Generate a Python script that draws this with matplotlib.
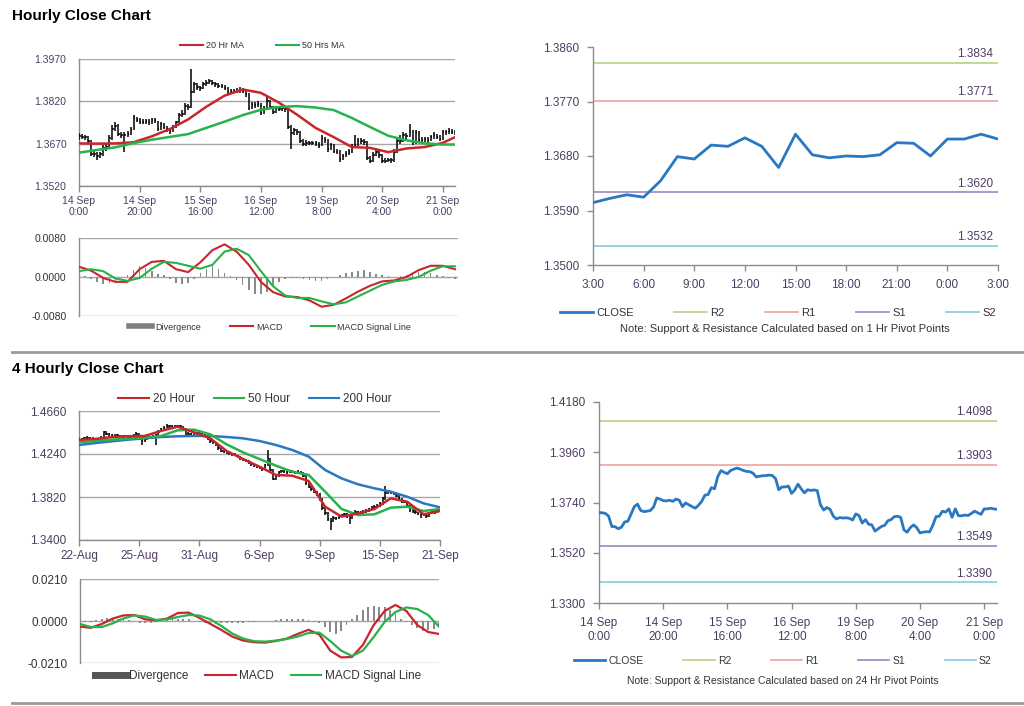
import matplotlib
matplotlib.use("Agg")
import matplotlib.pyplot as plt
from matplotlib.lines import Line2D
import numpy as np

plt.rcParams['font.family'] = ['Liberation Sans', 'DejaVu Sans']

# ---------------- data ----------------
# hourly session 14 Sep 0:00 .. 21 Sep ~4:00 (one value per hour)
date_ticks_1h = ["14 Sep\n0:00", "14 Sep\n20:00", "15 Sep\n16:00", "16 Sep\n12:00",
                 "19 Sep\n8:00", "20 Sep\n4:00", "21 Sep\n0:00"]
hourly_close = [1.3696, 1.3695, 1.3692, 1.3680, 1.3635, 1.3634, 1.3625, 1.3632, 1.3655, 1.3658,
                1.3690, 1.3722, 1.3733, 1.3705, 1.3700, 1.3702, 1.3705, 1.3720, 1.3760, 1.3755,
                1.3748, 1.3747, 1.3750, 1.3745, 1.3755, 1.3750, 1.3722, 1.3738, 1.3730, 1.3722,
                1.3715, 1.3728, 1.3745, 1.3772, 1.3775, 1.3805, 1.3800, 1.3853, 1.3880, 1.3872,
                1.3866, 1.3880, 1.3886, 1.3891, 1.3886, 1.3880, 1.3876, 1.3875, 1.3868, 1.3852,
                1.3855, 1.3857, 1.3858, 1.3860, 1.3858, 1.3845, 1.3796, 1.3808, 1.3808, 1.3812,
                1.3780, 1.3795, 1.3820, 1.3800, 1.3782, 1.3796, 1.3793, 1.3795, 1.3792, 1.3730,
                1.3707, 1.3718, 1.3710, 1.3680, 1.3668, 1.3674, 1.3672, 1.3673, 1.3671, 1.3663,
                1.3690, 1.3683, 1.3650, 1.3665, 1.3645, 1.3642, 1.3615, 1.3625, 1.3635, 1.3640,
                1.3660, 1.3665, 1.3678, 1.3680, 1.3675, 1.3620, 1.3610, 1.3630, 1.3642, 1.3630,
                1.3607, 1.3610, 1.3612, 1.3611, 1.3640, 1.3678, 1.3680, 1.3702, 1.3698, 1.3712,
                1.3675, 1.3712, 1.3682, 1.3682, 1.3685, 1.3683, 1.3692, 1.3702, 1.3695, 1.3688,
                1.3712, 1.3712, 1.3715, 1.3712, 1.3710]
hourly_hi = [1.3708, 1.3705, 1.3702, 1.3698, 1.3684, 1.3645, 1.3640, 1.3642, 1.3664, 1.3668,
             1.3700, 1.3735, 1.3745, 1.3740, 1.3712, 1.3712, 1.3716, 1.3730, 1.3772, 1.3766,
             1.3760, 1.3756, 1.3758, 1.3756, 1.3762, 1.3760, 1.3752, 1.3745, 1.3742, 1.3734,
             1.3726, 1.3736, 1.3752, 1.3780, 1.3788, 1.3815, 1.3812, 1.3935, 1.3888, 1.3884,
             1.3876, 1.3888, 1.3894, 1.3898, 1.3896, 1.3890, 1.3884, 1.3883, 1.3878, 1.3870,
             1.3862, 1.3865, 1.3866, 1.3870, 1.3866, 1.3862, 1.3848, 1.3816, 1.3818, 1.3822,
             1.3815, 1.3804, 1.3835, 1.3825, 1.3805, 1.3804, 1.3802, 1.3804, 1.3802, 1.3796,
             1.3735, 1.3726, 1.3722, 1.3714, 1.3686, 1.3682, 1.3680, 1.3681, 1.3680, 1.3676,
             1.3700, 1.3694, 1.3686, 1.3674, 1.3670, 1.3650, 1.3646, 1.3634, 1.3645, 1.3650,
             1.3668, 1.3700, 1.3690, 1.3690, 1.3686, 1.3678, 1.3625, 1.3640, 1.3650, 1.3648,
             1.3634, 1.3618, 1.3620, 1.3620, 1.3650, 1.3688, 1.3702, 1.3712, 1.3708, 1.3740,
             1.3718, 1.3720, 1.3716, 1.3692, 1.3694, 1.3692, 1.3702, 1.3710, 1.3706, 1.3700,
             1.3720, 1.3720, 1.3724, 1.3722, 1.3720]
hourly_lo = [1.3684, 1.3688, 1.3683, 1.3672, 1.3628, 1.3622, 1.3612, 1.3618, 1.3628, 1.3645,
             1.3652, 1.3684, 1.3715, 1.3698, 1.3690, 1.3640, 1.3695, 1.3700, 1.3718, 1.3745,
             1.3740, 1.3738, 1.3740, 1.3736, 1.3740, 1.3742, 1.3714, 1.3718, 1.3722, 1.3712,
             1.3706, 1.3712, 1.3725, 1.3742, 1.3765, 1.3770, 1.3790, 1.3796, 1.3848, 1.3860,
             1.3858, 1.3862, 1.3876, 1.3880, 1.3878, 1.3872, 1.3868, 1.3866, 1.3860, 1.3844,
             1.3846, 1.3848, 1.3850, 1.3850, 1.3848, 1.3836, 1.3788, 1.3792, 1.3798, 1.3800,
             1.3772, 1.3776, 1.3790, 1.3792, 1.3774, 1.3778, 1.3784, 1.3786, 1.3782, 1.3722,
             1.3650, 1.3700, 1.3702, 1.3672, 1.3660, 1.3662, 1.3664, 1.3665, 1.3662, 1.3655,
             1.3660, 1.3674, 1.3642, 1.3646, 1.3636, 1.3632, 1.3605, 1.3612, 1.3622, 1.3630,
             1.3636, 1.3655, 1.3660, 1.3670, 1.3666, 1.3612, 1.3602, 1.3606, 1.3625, 1.3620,
             1.3600, 1.3600, 1.3604, 1.3602, 1.3606, 1.3636, 1.3668, 1.3676, 1.3688, 1.3692,
             1.3666, 1.3670, 1.3674, 1.3672, 1.3675, 1.3674, 1.3680, 1.3688, 1.3686, 1.3680,
             1.3684, 1.3702, 1.3705, 1.3704, 1.3702]

# moving averages read every 6 hours
ma_hours_1h = [0, 6, 12, 18, 24, 30, 36, 42, 48, 54, 60, 66, 72, 78, 84, 90, 96, 102, 108, 114, 120, 124]
ma20_1h = [1.3671, 1.3670, 1.3671, 1.3675, 1.3696, 1.3722, 1.3756, 1.3801, 1.3840, 1.3862, 1.3850,
           1.3815, 1.3772, 1.3726, 1.3693, 1.3658, 1.3655, 1.3640, 1.3653, 1.3658, 1.3673, 1.3693]
ma50_1h = [1.3638, 1.3648, 1.3657, 1.3672, 1.3684, 1.3694, 1.3704, 1.3726, 1.3748, 1.3771, 1.3790,
           1.3800, 1.3803, 1.3798, 1.3789, 1.3761, 1.3729, 1.3698, 1.3682, 1.3671, 1.3667, 1.3667]

# MACD (every 4 hours) and divergence (every 2 hours)
macd_hours_1h = list(range(0, 125, 4))
macd_1h = [0.0021, 0.0013, -0.0002, -0.0010, -0.0010, 0.0016, 0.0031, 0.0033, 0.0016, 0.0010,
           0.0030, 0.0055, 0.0067, 0.0052, 0.0025, -0.0010, -0.0031, -0.0040, -0.0041, -0.0048,
           -0.0061, -0.0057, -0.0044, -0.0030, -0.0018, -0.0009, -0.0007, 0.0000, 0.0014, 0.0023,
           0.0023, 0.0016]
signal_1h = [0.0012, 0.0016, 0.0012, -0.0003, -0.0008, -0.0002, 0.0017, 0.0031, 0.0029, 0.0023,
             0.0017, 0.0025, 0.0052, 0.0058, 0.0045, 0.0012, -0.0019, -0.0038, -0.0043, -0.0043,
             -0.0050, -0.0056, -0.0052, -0.0040, -0.0028, -0.0016, -0.0009, -0.0006, 0.0000, 0.0013,
             0.0022, 0.0022]
div_hours_1h = list(range(0, 125, 2))
div_1h = [0.0006, 0.0003, -0.0004, -0.0010, -0.0014, -0.0013, -0.0008, -0.0003, 0.0004, 0.0015,
          0.0023, 0.0018, 0.0012, 0.0006, 0.0004, -0.0004, -0.0012, -0.0015, -0.0012, -0.0004,
          0.0008, 0.0016, 0.0022, 0.0017, 0.0008, 0.0002, -0.0006, -0.0016, -0.0026, -0.0034,
          -0.0034, -0.0030, -0.0018, -0.0010, -0.0005, -0.0002, -0.0002, -0.0004, -0.0007, -0.0009,
          -0.0008, -0.0005, -0.0001, 0.0004, 0.0008, 0.0010, 0.0012, 0.0014, 0.0011, 0.0007,
          0.0004, 0.0002, 0.0001, 0.0002, 0.0004, 0.0007, 0.0010, 0.0011, 0.0009, 0.0005,
          0.0002, -0.0002, -0.0004]

# last 24 hours, 1 hr pivot chart
hour_labels = ["3:00", "6:00", "9:00", "12:00", "15:00", "18:00", "21:00", "0:00", "3:00"]
close_24 = [1.3603, 1.3610, 1.3616, 1.3612, 1.3639, 1.3679, 1.3675, 1.3698, 1.3696, 1.3710,
            1.3696, 1.3661, 1.3716, 1.3682, 1.3677, 1.3680, 1.3679, 1.3682, 1.3702, 1.3701,
            1.3680, 1.3708, 1.3708, 1.3716, 1.3708]
levels_1h = {"R2": 1.3834, "R1": 1.3771, "S1": 1.3620, "S2": 1.3532}
levels_24h = {"R2": 1.4098, "R1": 1.3903, "S1": 1.3549, "S2": 1.3390}

# 4 hourly, 22 Aug .. 21 Sep
date_ticks_4h = ["22-Aug", "25-Aug", "31-Aug", "6-Sep", "9-Sep", "15-Sep", "21-Sep"]
four_close = [1.4377, 1.4387, 1.4393, 1.4400, 1.4400, 1.4387, 1.4377, 1.4367, 1.4409, 1.4452,
              1.4439, 1.4432, 1.4426, 1.4419, 1.4426, 1.4416, 1.4409, 1.4416, 1.4406, 1.4413,
              1.4426, 1.4439, 1.4387, 1.4367, 1.4380, 1.4393, 1.4400, 1.4413, 1.4426, 1.4458,
              1.4484, 1.4497, 1.4517, 1.4510, 1.4517, 1.4510, 1.4513, 1.4510, 1.4484, 1.4426,
              1.4439, 1.4432, 1.4439, 1.4445, 1.4439, 1.4426, 1.4419, 1.4393, 1.4367, 1.4354,
              1.4334, 1.4295, 1.4269, 1.4263, 1.4256, 1.4246, 1.4237, 1.4230, 1.4217, 1.4198,
              1.4188, 1.4172, 1.4159, 1.4139, 1.4126, 1.4116, 1.4106, 1.4093, 1.4133, 1.4198,
              1.4084, 1.3996, 1.4028, 1.4061, 1.4074, 1.4067, 1.4061, 1.4074, 1.4067, 1.4061,
              1.4067, 1.4054, 1.4028, 1.3953, 1.3921, 1.3898, 1.3872, 1.3846, 1.3800, 1.3709,
              1.3660, 1.3605, 1.3585, 1.3618, 1.3611, 1.3628, 1.3644, 1.3651, 1.3628, 1.3611,
              1.3664, 1.3677, 1.3670, 1.3657, 1.3677, 1.3683, 1.3703, 1.3716, 1.3725, 1.3735,
              1.3758, 1.3807, 1.3856, 1.3872, 1.3865, 1.3856, 1.3833, 1.3807, 1.3781, 1.3774,
              1.3735, 1.3693, 1.3683, 1.3670, 1.3657, 1.3644, 1.3651, 1.3631, 1.3657, 1.3683,
              1.3670, 1.3690, 1.3696]
four_hi = [1.4392, 1.4398, 1.4405, 1.4412, 1.4410, 1.4408, 1.4392, 1.4382, 1.4420, 1.4465,
           1.4460, 1.4445, 1.4440, 1.4432, 1.4436, 1.4430, 1.4422, 1.4426, 1.4420, 1.4424,
           1.4438, 1.4450, 1.4442, 1.4392, 1.4392, 1.4405, 1.4412, 1.4425, 1.4438, 1.4470,
           1.4495, 1.4510, 1.4530, 1.4525, 1.4528, 1.4522, 1.4525, 1.4522, 1.4515, 1.4490,
           1.4450, 1.4448, 1.4450, 1.4456, 1.4452, 1.4445, 1.4432, 1.4425, 1.4398, 1.4372,
           1.4360, 1.4340, 1.4300, 1.4278, 1.4270, 1.4262, 1.4252, 1.4245, 1.4235, 1.4222,
           1.4205, 1.4192, 1.4178, 1.4165, 1.4145, 1.4132, 1.4122, 1.4112, 1.4145, 1.4275,
           1.4205, 1.4092, 1.4040, 1.4075, 1.4088, 1.4082, 1.4076, 1.4088, 1.4082, 1.4076,
           1.4080, 1.4072, 1.4060, 1.4035, 1.3962, 1.3930, 1.3905, 1.3880, 1.3855, 1.3810,
           1.3720, 1.3672, 1.3615, 1.3630, 1.3628, 1.3640, 1.3658, 1.3665, 1.3660, 1.3635,
           1.3678, 1.3690, 1.3685, 1.3680, 1.3690, 1.3698, 1.3716, 1.3730, 1.3740, 1.3750,
           1.3772, 1.3822, 1.3925, 1.3888, 1.3880, 1.3872, 1.3865, 1.3840, 1.3815, 1.3790,
           1.3782, 1.3742, 1.3700, 1.3690, 1.3676, 1.3665, 1.3668, 1.3658, 1.3670, 1.3700,
           1.3692, 1.3705, 1.3710]
four_lo = [1.4365, 1.4370, 1.4380, 1.4385, 1.4388, 1.4378, 1.4365, 1.4355, 1.4362, 1.4400,
           1.4428, 1.4420, 1.4415, 1.4408, 1.4412, 1.4405, 1.4398, 1.4402, 1.4395, 1.4400,
           1.4408, 1.4420, 1.4375, 1.4330, 1.4360, 1.4372, 1.4385, 1.4395, 1.4325, 1.4420,
           1.4450, 1.4478, 1.4490, 1.4498, 1.4502, 1.4498, 1.4500, 1.4498, 1.4472, 1.4412,
           1.4418, 1.4420, 1.4425, 1.4430, 1.4425, 1.4412, 1.4405, 1.4380, 1.4352, 1.4340,
           1.4320, 1.4280, 1.4255, 1.4250, 1.4242, 1.4232, 1.4222, 1.4216, 1.4202, 1.4185,
           1.4175, 1.4158, 1.4145, 1.4125, 1.4112, 1.4102, 1.4092, 1.4078, 1.4085, 1.4125,
           1.4070, 1.3982, 1.3990, 1.4020, 1.4052, 1.4055, 1.4048, 1.4055, 1.4055, 1.4048,
           1.4052, 1.4040, 1.4015, 1.3940, 1.3905, 1.3882, 1.3858, 1.3830, 1.3785, 1.3695,
           1.3640, 1.3590, 1.3495, 1.3575, 1.3598, 1.3605, 1.3620, 1.3636, 1.3612, 1.3560,
           1.3605, 1.3655, 1.3655, 1.3640, 1.3648, 1.3668, 1.3675, 1.3695, 1.3705, 1.3718,
           1.3725, 1.3745, 1.3795, 1.3845, 1.3850, 1.3840, 1.3818, 1.3792, 1.3766, 1.3758,
           1.3720, 1.3678, 1.3668, 1.3655, 1.3640, 1.3615, 1.3636, 1.3612, 1.3625, 1.3650,
           1.3655, 1.3662, 1.3680]

ma_bars_4h = list(range(0, 133, 6))
ma20_4h = [1.4377, 1.4387, 1.4406, 1.4413, 1.4416, 1.4465, 1.4507, 1.4452, 1.4393, 1.4269, 1.4191,
           1.4116, 1.4035, 1.4028, 1.3976, 1.3725, 1.3628, 1.3660, 1.3703, 1.3807, 1.3774, 1.3651, 1.3683]
ma50_4h = [1.4354, 1.4367, 1.4380, 1.4390, 1.4400, 1.4416, 1.4471, 1.4478, 1.4432, 1.4334, 1.4256,
           1.4191, 1.4126, 1.4067, 1.4035, 1.3872, 1.3703, 1.3644, 1.3651, 1.3716, 1.3725, 1.3683, 1.3703]
ma200_4h = [1.4328, 1.4347, 1.4364, 1.4380, 1.4393, 1.4406, 1.4413, 1.4416, 1.4416, 1.4406, 1.4393,
            1.4367, 1.4328, 1.4279, 1.4214, 1.4084, 1.4002, 1.3944, 1.3905, 1.3872, 1.3823, 1.3758, 1.3719]

macd_bars_4h = list(range(0, 133, 4))
macd_4h = [-0.0028, -0.0034, -0.0015, 0.0012, 0.0028, 0.0030, 0.0008, 0.0003, 0.0012, 0.0040,
           0.0042, 0.0015, -0.0015, -0.0045, -0.0078, -0.0098, -0.0106, -0.0108, -0.0100, -0.0088,
           -0.0065, -0.0044, -0.0068, -0.0148, -0.0182, -0.0180, -0.0120, -0.0020, 0.0050, 0.0080,
           0.0050, -0.0020, -0.0055, -0.0065]
signal_4h = [-0.0015, -0.0030, -0.0030, -0.0012, 0.0013, 0.0028, 0.0022, 0.0005, 0.0008, 0.0020,
             0.0030, 0.0027, 0.0008, -0.0025, -0.0063, -0.0088, -0.0101, -0.0103, -0.0098, -0.0090,
             -0.0078, -0.0060, -0.0058, -0.0100, -0.0148, -0.0175, -0.0148, -0.0080, -0.0005, 0.0045,
             0.0068, 0.0060, 0.0030, -0.0028]
div_bars_4h = list(range(0, 133, 2))
div_4h = [-0.0012, -0.0006, -0.0004, 0.0006, 0.0012, 0.0014, 0.0014, 0.0012, 0.0010, 0.0006,
          0.0002, -0.0008, -0.0012, -0.0010, -0.0004, 0.0002, 0.0006, 0.0010, 0.0012, 0.0010,
          0.0008, 0.0002, -0.0006, -0.0010, -0.0014, -0.0014, -0.0012, -0.0012, -0.0010, -0.0008,
          -0.0008, -0.0006, -0.0004, -0.0002, -0.0002, 0.0002, 0.0004, 0.0008, 0.0012, 0.0012,
          0.0010, 0.0008, 0.0004, -0.0004, -0.0012, -0.0030, -0.0055, -0.0065, -0.0050, -0.0020,
          0.0008, 0.0030, 0.0055, 0.0072, 0.0075, 0.0072, 0.0068, 0.0055, 0.0035, 0.0012,
          -0.0005, -0.0020, -0.0035, -0.0048, -0.0045, -0.0038, -0.0030]

# ---------------- styling ----------------
RED = "#c8262c"
GREEN = "#27b24a"
BLUE = "#2a78c2"
LEVEL_COLORS = {"R2": "#b7d58d", "R1": "#eeaaaa", "S1": "#a390c6", "S2": "#8dd0e4"}
PRICE_TXT = "#4e3d63"
MACD_TXT = "#333333"
AXIS = "#8c8c8c"
GRID = "#a6a6a6"

W, H = 1024, 706


def px_axes(fig, x0, y0, x1, y1):
    # pixel box (top-left origin) -> axes
    return fig.add_axes([x0 / W, 1 - y1 / H, (x1 - x0) / W, (y1 - y0) / H])


def base_style(ax, txt_color, fs):
    for s in ("top", "right"):
        ax.spines[s].set_visible(False)
    for s in ("left", "bottom"):
        ax.spines[s].set_color(AXIS)
        ax.spines[s].set_linewidth(1.0)
    ax.tick_params(axis="both", colors=AXIS, labelcolor=txt_color, labelsize=fs,
                   length=4, width=1, direction="out")
    ax.set_facecolor("none")


def fig_legend(fig, handles, labels, cx, cy, fs, spacing, hl=2.6):
    fig.legend(handles, labels, loc="center", bbox_to_anchor=(cx / W, 1 - cy / H),
               ncol=len(handles), frameon=False, fontsize=fs, handlelength=hl,
               columnspacing=spacing, handletextpad=0.3, labelcolor="#333333")


def price_bars(ax, close, hi, lo):
    x = np.arange(len(close))
    ax.vlines(x, lo, hi, color="black", lw=1.1, zorder=3)
    ax.hlines(close, x, x + 0.5, color="black", lw=1.1, zorder=3)


def levels_panel(ax, close, levels, ylim, yticks, xticks, xlabels, fs):
    x = np.arange(len(close))
    for name, v in levels.items():
        ax.axhline(v, color=LEVEL_COLORS[name], lw=1.3, zorder=1)
        ax.annotate(f"{v:.4f}", xy=(0.988, v), xycoords=("axes fraction", "data"),
                    xytext=(0, 2), textcoords="offset points", ha="right", va="bottom",
                    fontsize=fs, color=PRICE_TXT)
    ax.plot(x, close, color=BLUE, lw=2.0, zorder=3)
    ax.set_ylim(*ylim)
    ax.set_yticks(yticks)
    ax.set_yticklabels([f"{t:.4f}" for t in yticks])
    ax.set_xticks(xticks)
    ax.set_xticklabels(xlabels)
    base_style(ax, PRICE_TXT, fs)
    ax.tick_params(axis="x", pad=6)
    ax.tick_params(axis="y", pad=6)


fig = plt.figure(figsize=(W / 100, H / 100), dpi=100)
fig.patch.set_facecolor("white")

# ---------- Hourly: price bars with MAs ----------
ax1 = px_axes(fig, 79, 59, 455, 186)
price_bars(ax1, hourly_close, hourly_hi, hourly_lo)
ax1.plot(ma_hours_1h, ma20_1h, color=RED, lw=1.8, zorder=4)
ax1.plot(ma_hours_1h, ma50_1h, color=GREEN, lw=1.8, zorder=4)
ax1.set_xlim(0, 124)
ax1.set_ylim(1.3520, 1.3970)
ax1.set_yticks([1.3520, 1.3670, 1.3820, 1.3970])
ax1.set_yticklabels(["1.3520", "1.3670", "1.3820", "1.3970"])
ax1.set_xticks(range(0, 121, 20))
ax1.set_xticklabels(date_ticks_1h)
base_style(ax1, PRICE_TXT, 7.5)
ax1.yaxis.grid(True, color=GRID, lw=1.0)
ax1.set_axisbelow(True)
ax1.tick_params(axis="y", length=0, pad=9)
ax1.tick_params(axis="x", pad=3)
fig_legend(fig, [Line2D([], [], color=RED, lw=1.5), Line2D([], [], color=GREEN, lw=1.5)],
           ["20 Hr MA", "50 Hrs MA"], 262, 46, 6.5, 3.5)

# ---------- Hourly: MACD ----------
ax2 = px_axes(fig, 79, 238, 458, 316)
ax2.bar(div_hours_1h, div_1h, width=0.5, color="#8a8a8a", zorder=2)
ax2.plot(macd_hours_1h, macd_1h, color=RED, lw=1.5, zorder=3)
ax2.plot(macd_hours_1h, signal_1h, color=GREEN, lw=1.5, zorder=4)
ax2.set_xlim(0, 125)
ax2.set_ylim(-0.0080, 0.0080)
ax2.set_yticks([-0.0080, 0.0, 0.0080])
ax2.set_yticklabels(["-0.0080", "0.0000", "0.0080"])
ax2.set_xticks([])
base_style(ax2, MACD_TXT, 7.5)
ax2.spines["bottom"].set_visible(False)
ax2.yaxis.grid(True, color=GRID, lw=1.0)
ax2.set_axisbelow(True)
ax2.tick_params(axis="y", length=0, pad=9)
fig_legend(fig, [Line2D([], [], color="#7f7f7f", lw=4), Line2D([], [], color=RED, lw=1.5),
                 Line2D([], [], color=GREEN, lw=1.5)],
           ["Divergence", "MACD", "MACD Signal Line"], 270, 327, 6.5, 3.2)

# ---------- Hourly: 1 hr pivot levels ----------
ax3 = px_axes(fig, 593, 47, 998, 265)
levels_panel(ax3, close_24, levels_1h, (1.3500, 1.3860), [1.3500, 1.3590, 1.3680, 1.3770, 1.3860],
             range(0, 25, 3), hour_labels, 8.5)
ax3.set_xlim(0, 24)
fig_legend(fig, [Line2D([], [], color=BLUE, lw=2)] +
           [Line2D([], [], color=LEVEL_COLORS[k], lw=1.3) for k in ("R2", "R1", "S1", "S2")],
           ["CLOSE", "R2", "R1", "S1", "S2"], 778, 313, 8, 3.6, hl=3.0)
fig.text(785 / W, 1 - 329 / H, "Note: Support & Resistance Calculated based on 1 Hr Pivot Points",
         ha="center", va="center", fontsize=8, color="#333333")

# ---------- 4 Hourly: price bars with MAs ----------
ax4 = px_axes(fig, 79, 411, 440, 540)
price_bars(ax4, four_close, four_hi, four_lo)
ax4.plot(ma_bars_4h, ma200_4h, color=BLUE, lw=1.8, zorder=4)
ax4.plot(ma_bars_4h, ma50_4h, color=GREEN, lw=1.8, zorder=4)
ax4.plot(ma_bars_4h, ma20_4h, color=RED, lw=1.8, zorder=4)
ax4.set_xlim(0, 132)
ax4.set_ylim(1.3400, 1.4660)
ax4.set_yticks([1.3400, 1.3820, 1.4240, 1.4660])
ax4.set_yticklabels(["1.3400", "1.3820", "1.4240", "1.4660"])
ax4.set_xticks(range(0, 133, 22))
ax4.set_xticklabels(date_ticks_4h)
base_style(ax4, PRICE_TXT, 8.5)
ax4.yaxis.grid(True, color=GRID, lw=1.0)
ax4.set_axisbelow(True)
ax4.tick_params(axis="y", length=0, pad=9)
ax4.tick_params(axis="x", pad=3)
fig_legend(fig, [Line2D([], [], color=RED, lw=1.5), Line2D([], [], color=GREEN, lw=1.5),
                 Line2D([], [], color=BLUE, lw=1.5)],
           ["20 Hour", "50 Hour", "200 Hour"], 255, 399, 8.5, 1.6)

# ---------- 4 Hourly: MACD ----------
ax5 = px_axes(fig, 80, 579, 439, 663)
ax5.bar(div_bars_4h, div_4h, width=0.7, color="#8a8a8a", zorder=2)
ax5.plot(macd_bars_4h, macd_4h, color=RED, lw=1.6, zorder=3)
ax5.plot(macd_bars_4h, signal_4h, color=GREEN, lw=1.6, zorder=4)
ax5.set_xlim(0, 132)
ax5.set_ylim(-0.0210, 0.0210)
ax5.set_yticks([-0.0210, 0.0, 0.0210])
ax5.set_yticklabels(["-0.0210", "0.0000", "0.0210"])
ax5.set_xticks([])
base_style(ax5, MACD_TXT, 8.5)
ax5.spines["bottom"].set_visible(False)
ax5.yaxis.grid(True, color=GRID, lw=1.0)
ax5.set_axisbelow(True)
ax5.tick_params(axis="y", length=0, pad=9)
fig_legend(fig, [Line2D([], [], color="#555555", lw=5), Line2D([], [], color=RED, lw=1.5),
                 Line2D([], [], color=GREEN, lw=1.5)],
           ["Divergence", "MACD", "MACD Signal Line"], 258, 676, 8.5, 1.4)

# ---------- 4 Hourly: 24 hr pivot levels ----------
ax6 = px_axes(fig, 599, 402, 997, 603)
levels_panel(ax6, hourly_close, levels_24h, (1.3300, 1.4180), [1.3300, 1.3520, 1.3740, 1.3960, 1.4180],
             range(0, 121, 20), date_ticks_1h, 8.5)
ax6.set_xlim(0, 124)
fig_legend(fig, [Line2D([], [], color=BLUE, lw=2)] +
           [Line2D([], [], color=LEVEL_COLORS[k], lw=1.3) for k in ("R2", "R1", "S1", "S2")],
           ["CLOSE", "R2", "R1", "S1", "S2"], 783, 661, 7.5, 3.8, hl=3.0)
fig.text(783 / W, 1 - 681 / H, "Note: Support & Resistance Calculated based on 24 Hr Pivot Points",
         ha="center", va="center", fontsize=7.5, color="#333333")

# ---------- titles and separators ----------
fig.text(12 / W, 1 - 16 / H, "Hourly Close Chart", fontsize=11, fontweight="bold", va="center")
fig.text(12 / W, 1 - 369 / H, "4 Hourly Close Chart", fontsize=11, fontweight="bold", va="center")
for yy in (352, 703):
    fig.add_artist(Line2D([12 / W, 1.0], [1 - yy / H, 1 - yy / H], color="#9a9a9a", lw=2,
                          transform=fig.transFigure))

fig.savefig("out.png", dpi=100)
